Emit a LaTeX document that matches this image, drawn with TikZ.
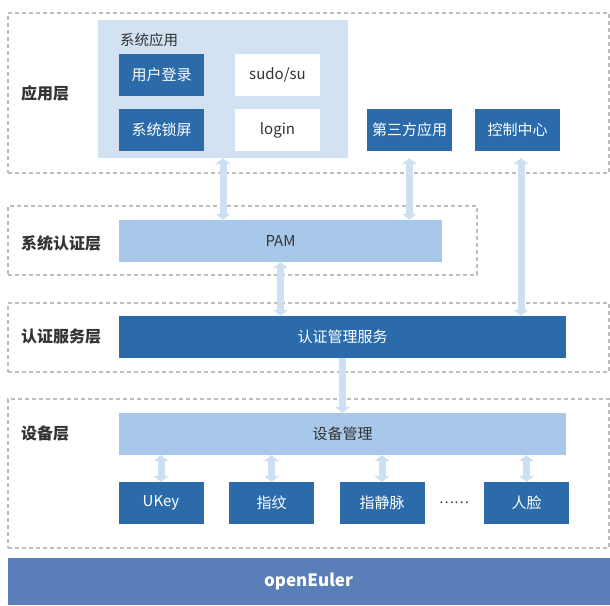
\documentclass[tikz,border=0pt]{standalone}
\usepackage{fontspec}
\setmainfont{Noto Sans CJK SC}
\usetikzlibrary{arrows.meta}

\definecolor{darkblue}{HTML}{2B6BAA}
\definecolor{midblue}{HTML}{A8C8E9}
\definecolor{paleblue}{HTML}{D2E2F3}
\definecolor{arrowblue}{HTML}{CCDFF3}
\definecolor{barblue}{HTML}{5A7EB8}
\definecolor{dashgray}{HTML}{BDBDBD}
\definecolor{textgray}{HTML}{333333}

\tikzset{
  layer/.style={draw=dashgray, line width=1.2pt, dash pattern=on 4pt off 3pt, inner sep=0pt},
  layername/.style={anchor=west, inner sep=0pt, text=textgray, font=\fontsize{16}{18}\selectfont\bfseries},
  darkbox/.style={fill=darkblue, text=white, minimum width=85pt, minimum height=42pt, inner sep=0pt, font=\fontsize{15}{17}\selectfont},
  whitebox/.style={darkbox, fill=white, text=textgray},
  widebox/.style={fill=midblue, text=textgray, minimum height=42pt, inner sep=0pt, font=\fontsize{15}{17}\selectfont},
  link/.style={arrowblue, line width=7pt, {Triangle[width=15pt,length=6pt]}-{Triangle[width=15pt,length=6pt]}},
  flow/.style={arrowblue, line width=7pt, -{Triangle[width=15pt,length=6pt]}}
}

\begin{document}
\begin{tikzpicture}[x=1pt, y=-1pt]
  \useasboundingbox (0,0) rectangle (610,605);

  % layers
  \node[layer, minimum width=601pt, minimum height=160pt] (applayer) at (308.5,93) {};
  \node[layer, minimum width=469pt, minimum height=69pt] (authlayer) at (242.5,240.5) {};
  \node[layer, minimum width=601pt, minimum height=69pt] (servlayer) at (308.5,337.5) {};
  \node[layer, minimum width=601pt, minimum height=149pt] (devlayer) at (308.5,473.5) {};
  \node[layername] (applabel) at (21,93) {应用层};
  \node[layername] (authlabel) at (21,243) {系统认证层};
  \node[layername] (servlabel) at (21,337) {认证服务层};
  \node[layername] (devlabel) at (21,433) {设备层};

  % application layer
  \node[fill=paleblue, minimum width=250pt, minimum height=138pt, inner sep=0pt] (sysapp) at (223,89) {};
  \node[anchor=west, inner sep=0pt, text=textgray, font=\fontsize{14.5}{16}\selectfont] (sysapptitle) at (120,40) {系统应用};
  \node[darkbox] (userlogin) at (161.5,75) {用户登录};
  \node[whitebox] (sudo) at (277.5,75) {sudo/su};
  \node[darkbox] (lockscreen) at (161.5,130) {系统锁屏};
  \node[whitebox] (login) at (277.5,130) {login};
  \node[darkbox] (thirdapp) at (409.5,130) {第三方应用};
  \node[darkbox] (ctrl) at (517.5,130) {控制中心};

  % middle layers
  \node[widebox, minimum width=323pt] (pam) at (280.5,241) {PAM};
  \node[widebox, fill=darkblue, text=white, minimum width=447pt] (auth) at (342.5,337) {认证管理服务};
  \node[widebox, minimum width=447pt] (devmgmt) at (342.5,434) {设备管理};

  % devices
  \node[darkbox] (ukey) at (161,503) {UKey};
  \node[darkbox] (finger) at (271.5,503) {指纹};
  \node[darkbox] (vein) at (382,503) {指静脉};
  \node[text=textgray, font=\fontsize{14}{16}\selectfont] (more) at (454,503) {……};
  \node[darkbox] (face) at (526.5,503) {人脸};

  \node[fill=barblue, text=white, minimum width=602pt, minimum height=47pt, inner sep=0pt,
        font=\fontsize{17}{19}\selectfont\bfseries] (os) at (308.5,581.5) {openEuler};

  % connectors
  \coordinate (ctrlout) at ([xshift=3.5pt]ctrl.south);
  \draw[link] (sysapp.south) -- (sysapp.south |- pam.north);
  \draw[link] (thirdapp |- sysapp.south) -- (thirdapp |- pam.north);
  \draw[link] (ctrlout |- sysapp.south) -- (ctrlout |- auth.north);
  \draw[link] (pam.south) -- (pam.south |- auth.north);
  \draw[flow] (auth.south) -- (devmgmt.north);
  \foreach \dev in {ukey,finger,vein,face}
    \draw[link] (devmgmt.south -| \dev) -- (\dev.north);
\end{tikzpicture}
\end{document}
